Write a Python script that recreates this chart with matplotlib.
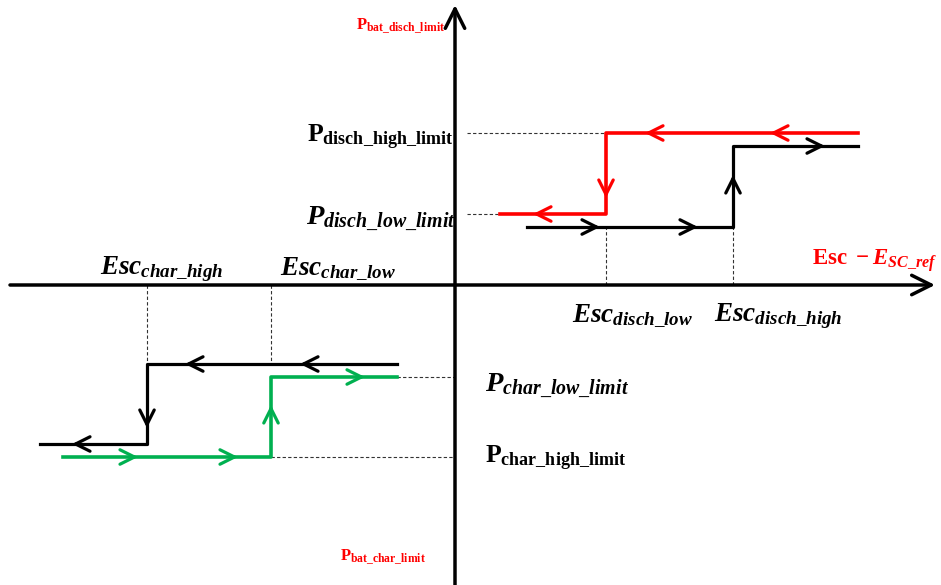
import matplotlib.pyplot as plt

plt.rcParams['mathtext.fontset'] = 'custom'
plt.rcParams['mathtext.rm'] = 'Liberation Serif:bold'
plt.rcParams['mathtext.bf'] = 'Liberation Serif:bold'
plt.rcParams['mathtext.it'] = 'Liberation Serif:italic:bold'

# thresholds on the Esc - Esc_ref axis
esc_disch_low, esc_disch_high = 151, 278
esc_char_low, esc_char_high = -184, -308

# discharge branch (red: going down, black: going up)
red_x = [403, esc_disch_low, esc_disch_low, 45]
red_y = [152, 152, 71, 71]
blk_d_x = [72, esc_disch_high, esc_disch_high, 403]
blk_d_y = [58, 58, 139, 139]

# charge branch (black: going down, green: going up)
blk_c_x = [-58, esc_char_high, esc_char_high, -415]
blk_c_y = [-79, -79, -159, -159]
grn_x = [-392, esc_char_low, esc_char_low, -58]
grn_y = [-172, -172, -92, -92]

# arrow heads on the paths: (x, y, direction)
red_arrows = [(190, 152, 'L'), (315, 152, 'L'), (151, 87, 'D'), (78, 71, 'L')]
blk_d_arrows = [(145, 58, 'R'), (243, 58, 'R'), (278, 110, 'U'), (370, 139, 'R')]
blk_c_arrows = [(-270, -79, 'L'), (-155, -79, 'L'), (-308, -143, 'D'), (-383, -159, 'L')]
grn_arrows = [(-317, -172, 'R'), (-217, -172, 'R'), (-184, -120, 'U'), (-90, -92, 'R')]

RED = '#ff0000'
GREEN = '#00b050'

fig = plt.figure(figsize=(9.41, 5.85), dpi=100)
ax = fig.add_axes([0, 0, 1, 1])
ax.set_xlim(-455, 486)
ax.set_ylim(-300, 285)
ax.axis('off')

# main axes with arrows
ax.annotate('', xy=(480, 0), xytext=(-445, 0),
            arrowprops=dict(arrowstyle='->,head_length=0.7,head_width=0.35',
                            lw=2.5, color='black', mutation_scale=20,
                            shrinkA=0, shrinkB=0))
ax.annotate('', xy=(0, 280), xytext=(0, -300),
            arrowprops=dict(arrowstyle='->,head_length=0.7,head_width=0.35',
                            lw=2.5, color='black', mutation_scale=20,
                            shrinkA=0, shrinkB=0))

dash = dict(color='#333333', lw=0.8, ls=(0, (3, 2)))
ax.plot([12, esc_disch_low], [152, 152], **dash)
ax.plot([12, 45], [71, 71], **dash)
ax.plot([esc_disch_low, esc_disch_low], [0, 58], **dash)
ax.plot([esc_disch_high, esc_disch_high], [0, 58], **dash)
ax.plot([esc_char_high, esc_char_high], [0, -79], **dash)
ax.plot([esc_char_low, esc_char_low], [0, -79], **dash)
ax.plot([-58, 0], [-92, -92], **dash)
ax.plot([esc_char_low, 0], [-172, -172], **dash)

ax.plot(red_x, red_y, color=RED, lw=2.6)
ax.plot(blk_d_x, blk_d_y, color='black', lw=2.3)
ax.plot(blk_c_x, blk_c_y, color='black', lw=2.3)
ax.plot(grn_x, grn_y, color=GREEN, lw=2.6)

step = {'L': (8, 0), 'R': (-8, 0), 'U': (0, -8), 'D': (0, 8)}


def heads(arrows, color):
    for x, y, d in arrows:
        dx, dy = step[d]
        ax.annotate('', xy=(x, y), xytext=(x + dx, y + dy),
                    arrowprops=dict(arrowstyle='->,head_length=0.8,head_width=0.4',
                                    lw=2.3, color=color, mutation_scale=13,
                                    shrinkA=0, shrinkB=0))


heads(red_arrows, RED)
heads(blk_d_arrows, 'black')
heads(blk_c_arrows, 'black')
heads(grn_arrows, GREEN)

# labels
ax.text(-10, 259, r'$\mathbf{P}_{\mathbf{bat\_disch\_limit}}$', color=RED,
        fontsize=12, ha='right', va='center')
ax.text(-115, -272, r'$\mathbf{P}_{\mathbf{bat\_char\_limit}}$', color=RED,
        fontsize=12, ha='left', va='center')
ax.text(-2, 148, r'$\mathbf{P}_{\mathbf{disch\_high\_limit}}$', fontsize=18.5,
        ha='right', va='center')
ax.text(1, 66, r'$P_{disch\_low\_limit}$', fontsize=20.5,
        ha='right', va='center')
ax.text(30, -101, r'$P_{char\_low\_limit}$', fontsize=20.5,
        ha='left', va='center')
ax.text(30, -173, r'$\mathbf{P}_{\mathbf{char\_high\_limit}}$', fontsize=18.5,
        ha='left', va='center')
ax.text(-293, 16, r'$Esc_{char\_high}$', fontsize=19.5, ha='center', va='center')
ax.text(-117, 16, r'$Esc_{char\_low}$', fontsize=19.5, ha='center', va='center')
ax.text(178, -31, r'$Esc_{disch\_low}$', fontsize=19.5, ha='center', va='center')
ax.text(323, -31, r'$Esc_{disch\_high}$', fontsize=19.5, ha='center', va='center')
ax.text(482, 24, r'$\mathrm{Esc}\ -E_{SC\_ref}$', color=RED, fontsize=16.5,
        ha='right', va='center')

fig.savefig('out.png', dpi=100)
